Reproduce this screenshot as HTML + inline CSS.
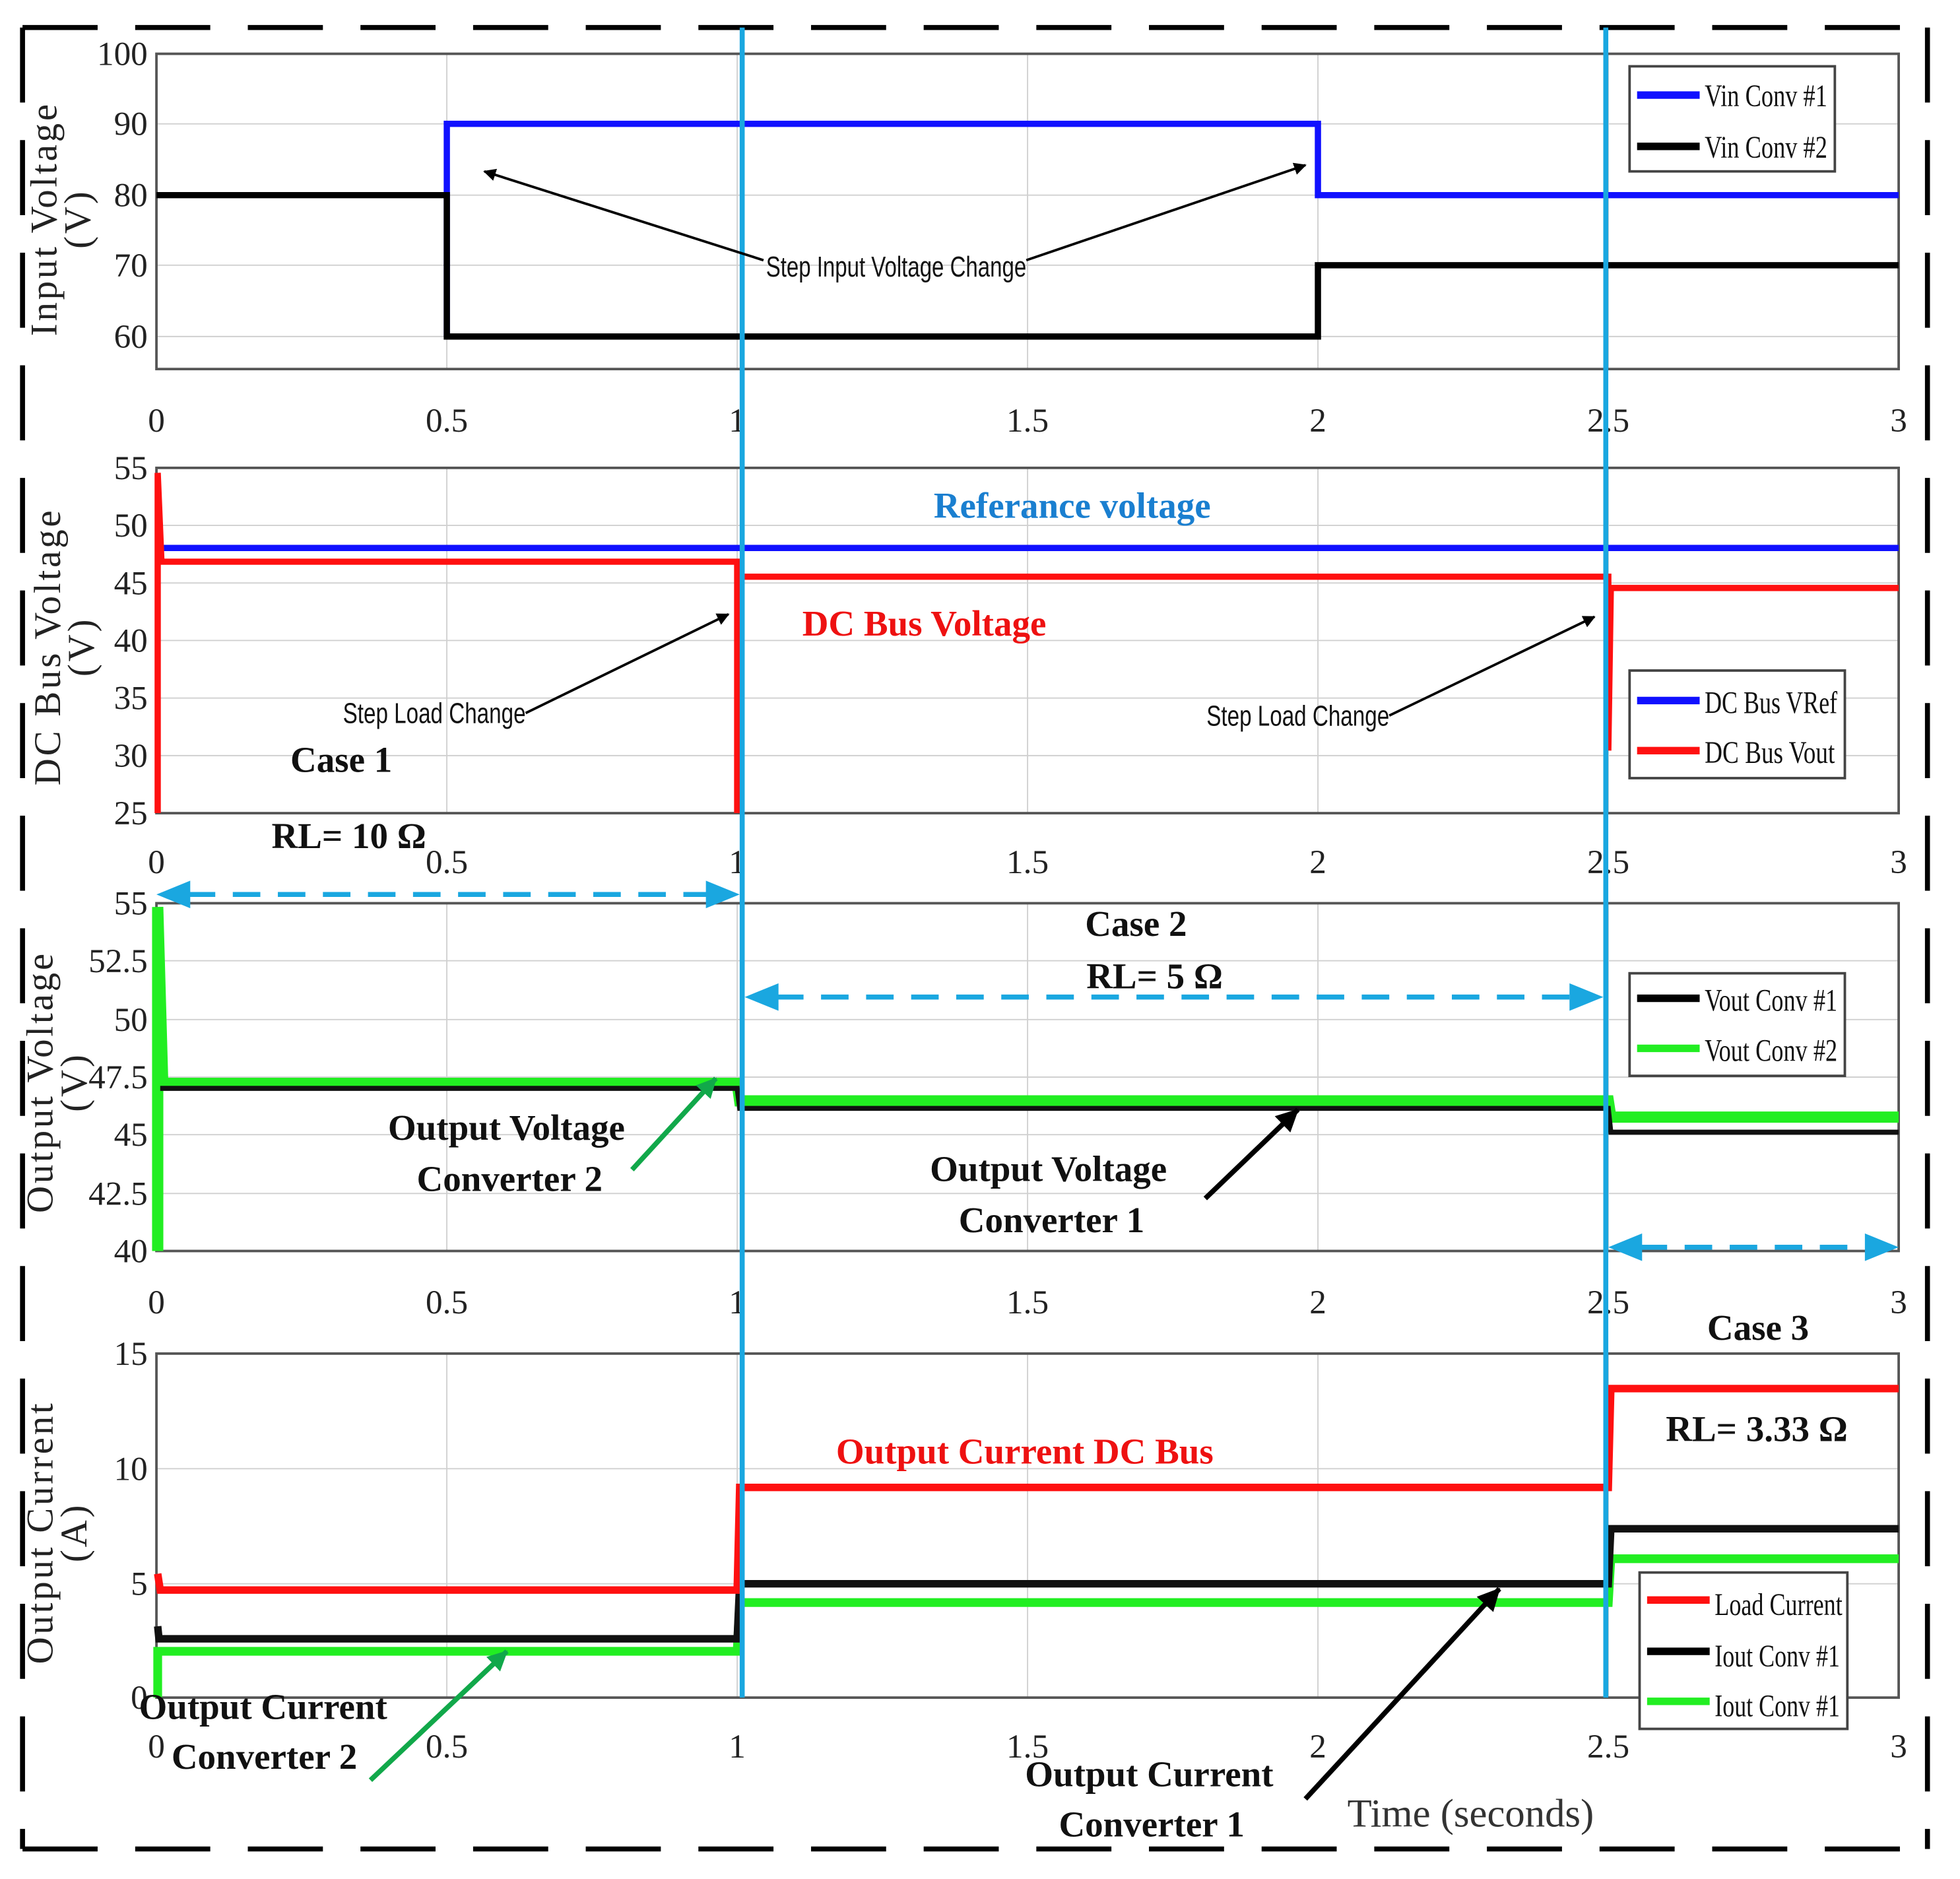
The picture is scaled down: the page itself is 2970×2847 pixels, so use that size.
<!DOCTYPE html>
<html><head><meta charset="utf-8"><style>html,body{margin:0;padding:0;background:#fff}svg{display:block}</style></head><body>
<svg width="2970" height="2847" viewBox="0 0 1566 1502" preserveAspectRatio="none" xmlns="http://www.w3.org/2000/svg" font-family="Liberation Serif, serif">
<defs>
<marker id="ab" markerWidth="10" markerHeight="10" refX="9" refY="5" orient="auto" markerUnits="userSpaceOnUse"><path d="M0,0 L10,5 L0,10 Z" fill="#000"/></marker>
<marker id="ag" markerWidth="16" markerHeight="16" refX="15" refY="8" orient="auto" markerUnits="userSpaceOnUse"><path d="M0,0 L16,8 L0,16 Z" fill="#11a84a"/></marker>
<marker id="ak" markerWidth="18" markerHeight="18" refX="17" refY="9" orient="auto" markerUnits="userSpaceOnUse"><path d="M0,0 L18,9 L0,18 Z" fill="#000"/></marker>
</defs>
<rect width="1566" height="1502" fill="#fff"/>
<g stroke="#000" stroke-width="4" fill="none" stroke-dasharray="60,30">
<line x1="18" y1="22" x2="1540" y2="22"/>
<line x1="18" y1="1478" x2="1540" y2="1478"/>
<line x1="18" y1="22" x2="18" y2="1478"/>
<line x1="1540" y1="22" x2="1540" y2="1478"/>
</g>

<g stroke="#d0d0d0" stroke-width="1">
<line x1="357" y1="43" x2="357" y2="295"/><line x1="589" y1="43" x2="589" y2="295"/><line x1="821" y1="43" x2="821" y2="295"/><line x1="1053" y1="43" x2="1053" y2="295"/><line x1="1285" y1="43" x2="1285" y2="295"/>
<line x1="125" y1="99" x2="1517" y2="99"/><line x1="125" y1="156" x2="1517" y2="156"/><line x1="125" y1="212" x2="1517" y2="212"/><line x1="125" y1="269" x2="1517" y2="269"/>
<line x1="357" y1="374" x2="357" y2="650"/><line x1="589" y1="374" x2="589" y2="650"/><line x1="821" y1="374" x2="821" y2="650"/><line x1="1053" y1="374" x2="1053" y2="650"/><line x1="1285" y1="374" x2="1285" y2="650"/>
<line x1="125" y1="420" x2="1517" y2="420"/><line x1="125" y1="466" x2="1517" y2="466"/><line x1="125" y1="512" x2="1517" y2="512"/><line x1="125" y1="558" x2="1517" y2="558"/><line x1="125" y1="604" x2="1517" y2="604"/>
<line x1="357" y1="722" x2="357" y2="1000"/><line x1="589" y1="722" x2="589" y2="1000"/><line x1="821" y1="722" x2="821" y2="1000"/><line x1="1053" y1="722" x2="1053" y2="1000"/><line x1="1285" y1="722" x2="1285" y2="1000"/>
<line x1="125" y1="768" x2="1517" y2="768"/><line x1="125" y1="815" x2="1517" y2="815"/><line x1="125" y1="861" x2="1517" y2="861"/><line x1="125" y1="907" x2="1517" y2="907"/><line x1="125" y1="954" x2="1517" y2="954"/>
<line x1="357" y1="1082" x2="357" y2="1357"/><line x1="589" y1="1082" x2="589" y2="1357"/><line x1="821" y1="1082" x2="821" y2="1357"/><line x1="1053" y1="1082" x2="1053" y2="1357"/><line x1="1285" y1="1082" x2="1285" y2="1357"/>
<line x1="125" y1="1174" x2="1517" y2="1174"/><line x1="125" y1="1266" x2="1517" y2="1266"/>
</g>
<g stroke="#555" stroke-width="2" fill="none">
<rect x="125" y="43" width="1392" height="252"/>
<rect x="125" y="374" width="1392" height="276"/>
<rect x="125" y="722" width="1392" height="278"/>
<rect x="125" y="1082" width="1392" height="275"/>
</g>

<g font-size="27" fill="#222" text-anchor="end">
<text x="118" y="52">100</text><text x="118" y="108">90</text><text x="118" y="165">80</text><text x="118" y="221">70</text><text x="118" y="278">60</text>
<text x="118" y="383">55</text><text x="118" y="429">50</text><text x="118" y="475">45</text><text x="118" y="521">40</text><text x="118" y="567">35</text><text x="118" y="613">30</text><text x="118" y="659">25</text>
<text x="118" y="731">55</text><text x="118" y="777">52.5</text><text x="118" y="824">50</text><text x="118" y="870">47.5</text><text x="118" y="916">45</text><text x="118" y="963">42.5</text><text x="118" y="1009">40</text>
<text x="118" y="1091">15</text><text x="118" y="1183">10</text><text x="118" y="1275">5</text><text x="118" y="1366">0</text>
</g>
<g font-size="27" fill="#222" text-anchor="middle">
<text x="125" y="345">0</text><text x="357" y="345">0.5</text><text x="589" y="345">1</text><text x="821" y="345">1.5</text><text x="1053" y="345">2</text><text x="1285" y="345">2.5</text><text x="1517" y="345">3</text>
<text x="125" y="698">0</text><text x="357" y="698">0.5</text><text x="589" y="698">1</text><text x="821" y="698">1.5</text><text x="1053" y="698">2</text><text x="1285" y="698">2.5</text><text x="1517" y="698">3</text>
<text x="125" y="1050">0</text><text x="357" y="1050">0.5</text><text x="589" y="1050">1</text><text x="821" y="1050">1.5</text><text x="1053" y="1050">2</text><text x="1285" y="1050">2.5</text><text x="1517" y="1050">3</text>
<text x="125" y="1405">0</text><text x="357" y="1405">0.5</text><text x="589" y="1405">1</text><text x="821" y="1405">1.5</text><text x="1053" y="1405">2</text><text x="1285" y="1405">2.5</text><text x="1517" y="1405">3</text>
</g>
<text x="1175" y="1460" font-size="32" fill="#333" text-anchor="middle">Time (seconds)</text>

<g font-size="30" fill="#222" text-anchor="middle" letter-spacing="2">
<text transform="translate(45,175) rotate(-90)">Input Voltage</text><text transform="translate(72,175) rotate(-90)">(V)</text>
<text transform="translate(48,517) rotate(-90)">DC Bus Voltage</text><text transform="translate(75,517) rotate(-90)">(V)</text>
<text transform="translate(42,865) rotate(-90)">Output Voltage</text><text transform="translate(69,865) rotate(-90)">(V)</text>
<text transform="translate(42,1225) rotate(-90)">Output Current</text><text transform="translate(69,1225) rotate(-90)">(A)</text>
</g>

<polyline points="357,269 357,99 1053,99 1053,156 1517,156" fill="none" stroke="#1010ff" stroke-width="5"/>
<polyline points="125,156 357,156 357,269 1053,269 1053,212 1517,212" fill="none" stroke="#000" stroke-width="5"/>
<line x1="125" y1="438" x2="1517" y2="438" stroke="#1010ff" stroke-width="5"/>
<polyline points="126,650 126,378 129,449 589,449 589,650 591,461 1285,461 1285,600 1287,470 1517,470" fill="none" stroke="#ff1010" stroke-width="5"/>
<polyline points="126,1000 126,725 130,866 589,866 591,880 1285,880 1287,893 1517,893" fill="none" stroke="#22ee22" stroke-width="9"/>
<polyline points="128,870 589,870 591,886 1285,886 1287,905 1517,905" fill="none" stroke="#111" stroke-width="4"/>
<polyline points="126,1357 126,1320 589,1320 591,1281 1285,1281 1287,1246 1517,1246" fill="none" stroke="#22ee22" stroke-width="7"/>
<polyline points="126,1300 127,1310 589,1310 591,1266 1285,1266 1287,1222 1517,1222" fill="none" stroke="#111" stroke-width="6"/>
<polyline points="126,1258 128,1271 589,1271 591,1189 1285,1189 1287,1110 1517,1110" fill="none" stroke="#ff1010" stroke-width="6"/>

<g font-size="25" fill="#111">
<rect x="1302" y="53" width="164" height="84" fill="#fff" stroke="#444" stroke-width="2"/>
<line x1="1308" y1="76" x2="1358" y2="76" stroke="#1010ff" stroke-width="6"/><text x="1362" y="85" textLength="98" lengthAdjust="spacingAndGlyphs">Vin Conv #1</text>
<line x1="1308" y1="117" x2="1358" y2="117" stroke="#000" stroke-width="6"/><text x="1362" y="126" textLength="98" lengthAdjust="spacingAndGlyphs">Vin Conv #2</text>
<rect x="1302" y="536" width="172" height="86" fill="#fff" stroke="#444" stroke-width="2"/>
<line x1="1308" y1="560" x2="1358" y2="560" stroke="#1010ff" stroke-width="6"/><text x="1362" y="570" textLength="106" lengthAdjust="spacingAndGlyphs">DC Bus VRef</text>
<line x1="1308" y1="600" x2="1358" y2="600" stroke="#ff1010" stroke-width="6"/><text x="1362" y="610" textLength="104" lengthAdjust="spacingAndGlyphs">DC Bus Vout</text>
<rect x="1302" y="778" width="172" height="82" fill="#fff" stroke="#444" stroke-width="2"/>
<line x1="1308" y1="798" x2="1358" y2="798" stroke="#000" stroke-width="6"/><text x="1362" y="808" textLength="106" lengthAdjust="spacingAndGlyphs">Vout Conv #1</text>
<line x1="1308" y1="838" x2="1358" y2="838" stroke="#22ee22" stroke-width="6"/><text x="1362" y="848" textLength="106" lengthAdjust="spacingAndGlyphs">Vout Conv #2</text>
<rect x="1310" y="1257" width="166" height="125" fill="#fff" stroke="#444" stroke-width="2"/>
<line x1="1316" y1="1279" x2="1366" y2="1279" stroke="#ff1010" stroke-width="6"/><text x="1370" y="1291" textLength="102" lengthAdjust="spacingAndGlyphs">Load Current</text>
<line x1="1316" y1="1320" x2="1366" y2="1320" stroke="#000" stroke-width="6"/><text x="1370" y="1332" textLength="100" lengthAdjust="spacingAndGlyphs">Iout Conv #1</text>
<line x1="1316" y1="1360" x2="1366" y2="1360" stroke="#22ee22" stroke-width="6"/><text x="1370" y="1372" textLength="100" lengthAdjust="spacingAndGlyphs">Iout Conv #1</text>
</g>

<line x1="593" y1="22" x2="593" y2="1357" stroke="#1aa7e0" stroke-width="4"/>
<line x1="1283" y1="22" x2="1283" y2="1357" stroke="#1aa7e0" stroke-width="4"/>

<g stroke="#000" stroke-width="2" fill="none">
<line x1="610" y1="208" x2="387" y2="137" marker-end="url(#ab)"/>
<line x1="820" y1="208" x2="1043" y2="132" marker-end="url(#ab)"/>
<line x1="420" y1="570" x2="582" y2="491" marker-end="url(#ab)"/>
<line x1="1110" y1="572" x2="1274" y2="493" marker-end="url(#ab)"/>
</g>
<g font-family="Liberation Sans, sans-serif" font-size="23" fill="#111">
<text x="612" y="221" textLength="208" lengthAdjust="spacingAndGlyphs">Step Input Voltage Change</text>
<text x="274" y="578" textLength="146" lengthAdjust="spacingAndGlyphs">Step Load Change</text>
<text x="964" y="580" textLength="146" lengthAdjust="spacingAndGlyphs">Step Load Change</text>
</g>
<g font-weight="bold" font-size="29">
<text x="746" y="414" fill="#1a7fd0">Referance voltage</text>
<text x="641" y="508" fill="#ee1111">DC Bus Voltage</text>
<text x="668" y="1170" fill="#ee1111">Output Current DC Bus</text>
<g fill="#111">
<text x="232" y="617">Case 1</text>
<text x="217" y="678">RL= 10 Ω</text>
<text x="867" y="748">Case 2</text>
<text x="868" y="790">RL= 5 Ω</text>
<text x="1364" y="1071">Case 3</text>
<text x="1331" y="1152">RL= 3.33 Ω</text>
<text x="310" y="911">Output Voltage</text>
<text x="333" y="952">Converter 2</text>
<text x="743" y="944">Output Voltage</text>
<text x="766" y="985">Converter 1</text>
<text x="111" y="1374">Output Current</text>
<text x="137" y="1414">Converter 2</text>
<text x="819" y="1428">Output Current</text>
<text x="846" y="1468">Converter 1</text>
</g>
</g>
<g stroke="#1aa7e0" stroke-width="4" stroke-dasharray="22,14" fill="none">
<line x1="150" y1="715" x2="566" y2="715"/>
<line x1="620" y1="797" x2="1256" y2="797"/>
<line x1="1310" y1="997" x2="1490" y2="997"/>
</g>
<g fill="#1aa7e0">
<path d="M125,715 L152,704 L152,726 Z"/><path d="M591,715 L564,704 L564,726 Z"/>
<path d="M595,797 L622,786 L622,808 Z"/><path d="M1281,797 L1254,786 L1254,808 Z"/>
<path d="M1285,997 L1312,986 L1312,1008 Z"/><path d="M1517,997 L1490,986 L1490,1008 Z"/>
</g>
<line x1="505" y1="935" x2="572" y2="862" stroke="#11a84a" stroke-width="4" marker-end="url(#ag)"/>
<line x1="296" y1="1423" x2="405" y2="1320" stroke="#11a84a" stroke-width="4" marker-end="url(#ag)"/>
<line x1="963" y1="958" x2="1037" y2="887" stroke="#000" stroke-width="4" marker-end="url(#ak)"/>
<line x1="1043" y1="1438" x2="1198" y2="1270" stroke="#000" stroke-width="4" marker-end="url(#ak)"/>
</svg>
</body></html>
